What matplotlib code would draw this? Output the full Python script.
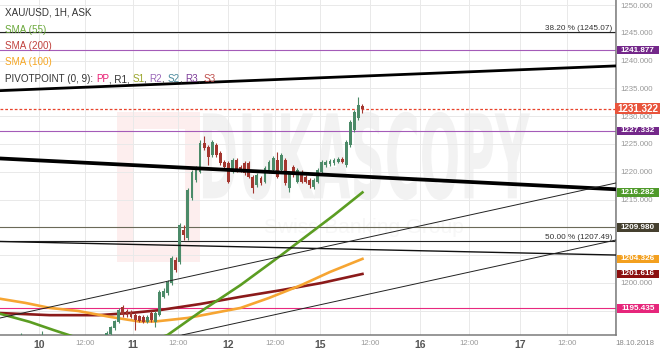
import numpy as np
import matplotlib
matplotlib.use('Agg')
import matplotlib.pyplot as plt
from matplotlib.patches import Rectangle, PathPatch
from matplotlib.textpath import TextPath
from matplotlib.font_manager import FontProperties
from matplotlib.transforms import Affine2D, blended_transform_factory

plt.rcParams['font.family'] = ['Liberation Sans', 'DejaVu Sans']

# XAU/USD 1H candles, bar 0 = first bar at the left edge
opens = [1188.2, 1188.6, 1188.9, 1188.4, 1188.1, 1188.7, 1189.5, 1189.2, 1188.8, 1188.3,
         1188.9, 1189.8, 1189.4, 1188.7, 1188.0, 1187.6, 1188.2, 1187.9, 1188.5, 1188.1,
         1188.9, 1189.3, 1188.8, 1189.1, 1189.6, 1189.2, 1189.7, 1190.8, 1191.9, 1193.0,
         1195.6, 1195.0, 1194.8, 1194.2, 1194.0, 1193.9, 1193.0, 1194.6, 1193.0, 1194.3,
         1197.5, 1198.2, 1200.0, 1204.1, 1203.8, 1209.5, 1208.1, 1215.3, 1218.5, 1220.0,
         1225.2, 1224.5, 1223.0, 1224.8, 1223.4, 1221.8, 1221.6, 1220.0, 1222.1, 1220.9,
         1221.6, 1221.6, 1219.1, 1217.6, 1218.9, 1218.2, 1220.0, 1220.3, 1222.1, 1220.3,
         1222.1, 1217.1, 1220.9, 1218.2, 1220.0, 1219.1, 1218.5, 1217.3, 1218.2, 1220.0,
         1221.2, 1221.4, 1221.6, 1221.8, 1222.3, 1221.2, 1224.8, 1227.5, 1229.7, 1231.8]
highs = [1188.9, 1189.3, 1189.1, 1188.7, 1189.0, 1191.0, 1189.9, 1189.6, 1189.1, 1189.3,
         1191.3, 1190.1, 1189.7, 1189.0, 1188.3, 1188.5, 1188.4, 1188.8, 1188.7, 1189.2,
         1189.6, 1189.5, 1189.4, 1189.9, 1189.8, 1189.9, 1191.3, 1192.3, 1193.4, 1195.4,
         1196.0, 1195.3, 1195.1, 1194.6, 1194.3, 1194.2, 1194.2, 1194.9, 1194.9, 1198.7,
         1199.0, 1200.5, 1204.9, 1204.6, 1210.8, 1210.4, 1217.0, 1220.3, 1221.0, 1225.7,
         1226.4, 1224.8, 1225.7, 1225.1, 1223.7, 1222.1, 1221.9, 1222.4, 1222.4, 1221.2,
         1221.9, 1221.9, 1219.4, 1219.7, 1219.2, 1221.0, 1222.1, 1222.8, 1223.6, 1223.3,
         1222.4, 1220.1, 1221.2, 1220.6, 1220.3, 1219.4, 1218.8, 1218.8, 1220.6, 1222.1,
         1222.2, 1222.3, 1222.4, 1222.6, 1222.6, 1225.7, 1229.3, 1231.1, 1233.5, 1232.2]
lows = [1187.9, 1188.3, 1188.0, 1187.7, 1187.9, 1188.5, 1188.9, 1188.5, 1188.0, 1188.1,
        1188.6, 1189.0, 1188.4, 1187.7, 1187.2, 1187.4, 1187.5, 1187.7, 1187.8, 1187.9,
        1188.6, 1188.5, 1188.6, 1188.9, 1188.9, 1188.8, 1189.5, 1190.4, 1191.6, 1192.7,
        1193.9, 1193.9, 1193.6, 1191.5, 1192.9, 1192.7, 1192.7, 1193.0, 1192.1, 1194.0,
        1197.2, 1197.9, 1199.7, 1202.0, 1203.4, 1207.7, 1207.8, 1215.0, 1218.2, 1219.7,
        1224.0, 1221.2, 1222.7, 1222.7, 1221.3, 1220.6, 1217.9, 1219.7, 1220.0, 1220.0,
        1219.5, 1218.8, 1216.2, 1217.3, 1217.7, 1217.9, 1219.7, 1220.0, 1218.8, 1220.0,
        1217.7, 1216.4, 1219.1, 1217.9, 1217.9, 1217.9, 1217.0, 1216.9, 1217.9, 1219.7,
        1220.9, 1221.1, 1221.3, 1221.5, 1221.5, 1220.9, 1224.5, 1227.2, 1229.4, 1230.6]
closes = [1188.6, 1188.9, 1188.4, 1188.1, 1188.7, 1189.5, 1189.2, 1188.8, 1188.3, 1188.9,
          1189.8, 1189.4, 1188.7, 1188.0, 1187.6, 1188.2, 1187.9, 1188.5, 1188.1, 1188.9,
          1189.3, 1188.8, 1189.1, 1189.6, 1189.2, 1189.7, 1190.9, 1192.0, 1193.1, 1195.1,
          1194.2, 1194.2, 1193.9, 1193.3, 1193.2, 1193.0, 1193.9, 1193.3, 1194.6, 1198.4,
          1198.6, 1200.2, 1204.5, 1202.3, 1210.4, 1208.6, 1216.7, 1220.0, 1220.7, 1225.2,
          1224.3, 1222.7, 1225.4, 1223.0, 1221.6, 1220.9, 1218.2, 1222.1, 1220.3, 1220.3,
          1219.8, 1219.1, 1217.1, 1219.4, 1218.0, 1220.7, 1221.8, 1222.5, 1219.1, 1223.0,
          1218.0, 1219.8, 1219.4, 1220.3, 1218.2, 1218.2, 1217.6, 1218.5, 1220.3, 1221.8,
          1221.8, 1221.9, 1222.1, 1222.3, 1221.8, 1225.4, 1229.0, 1230.8, 1232.0, 1231.322]

# moving averages (bar index, value)
sma55_x = [-1, 7, 13, 18, 24, 32, 37, 41, 49, 59, 69, 82, 89]
sma55 = [1194.6, 1193.0, 1191.5, 1190.3, 1189.5, 1189.2, 1189.6, 1190.63, 1194.77,
         1199.63, 1205.0, 1212.2, 1216.282]
sma100_x = [-1, 6, 12, 19, 27, 34, 38, 46, 59, 66, 74, 81, 89]
sma100 = [1197.24, 1196.4, 1195.5, 1194.95, 1193.87, 1193.06, 1193.06, 1193.7, 1195.5,
          1197.3, 1199.63, 1201.97, 1204.326]
sma200_x = [-1, 12, 24, 32, 39, 49, 59, 69, 79, 89]
sma200 = [1194.6, 1194.2, 1194.2, 1194.6, 1195.1, 1196.2, 1197.5, 1198.7, 1200.0, 1201.616]

# trend lines: value at bar 0 and at bar 150
trend_bars = (0, 150)
trend_thick_top = (1234.6, 1239.0)
trend_thick_mid = (1222.38, 1216.9)
trend_thin_desc = (1207.45, 1205.04)
channel_upper = (1193.73, 1217.75)
channel_lower = (1183.5, 1207.49)

# horizontal levels
fib_levels = [1245.07, 1207.49]
fib_labels = ['38.20 % (1245.07)', '50.00 % (1207.49)']
pivot_r = [1241.877, 1227.332]
pp_level = 1195.435
last_price = 1231.322
olive_level = 1209.980

box_values = [1241.877, 1231.322, 1227.332, 1216.282, 1209.980, 1204.326, 1201.616, 1195.435]
box_colors = ['#74288a', '#e9543c', '#74288a', '#4f9a2a', '#45402f', '#f3a01f', '#8c0f0f', '#e6267b']

# right axis labels (the ones hidden under price boxes are left out)
ytick_values = [1250, 1245, 1240, 1235, 1230, 1225, 1220, 1215, 1200]

tick_pos = [9.33, 20.67, 32.49, 43.57, 55.89, 67.46, 78.55, 90.86, 103.18, 115.25, 127.81, 139.39, 151.21]
tick_labels = ['10', '12:00', '11', '12:00', '12', '12:00', '15', '12:00', '16', '12:00', '17', '12:00', '18.10.2018']

GREEN = '#4b8a68'
RED = '#a3362f'

fig = plt.figure(figsize=(6.6, 3.49), dpi=100)
ax = fig.add_axes([0, 14 / 349, 616 / 660, 335 / 349])
ax.set_xlim(-0.27, 151.45)
ax.set_ylim(1190.63, 1250.9)

# watermark
ax.add_patch(Rectangle((0.19, 0.218), 0.135, 0.448, transform=ax.transAxes,
                       fc='#fdeeee', ec='none', zorder=0))
ax.add_patch(Rectangle((0.218, 0.275), 0.082, 0.34, transform=ax.transAxes,
                       fc='white', ec='none', zorder=0))
fp = FontProperties(family='DejaVu Sans', weight='bold')
tp = TextPath((0, 0), 'DUKASCOPY', size=1, prop=fp)
ext = tp.get_extents()
tr = (Affine2D().translate(-ext.x0, -ext.y0)
      .scale((0.8604 - 0.3295) / ext.width, (0.666 - 0.403) / ext.height)
      .translate(0.3295, 0.403) + ax.transAxes)
ax.add_patch(PathPatch(tp, transform=tr, fc='#f2f2f2', ec='none', zorder=0))
ax.text(0.59, 0.32, 'Swiss Banking Group', transform=ax.transAxes, fontsize=15,
        color='#f7f7f7', ha='center', va='center', zorder=0)

# grid
ax.set_axisbelow(True)
ax.grid(True, color='#e9e9e9', lw=0.7)

# horizontal levels
for v in fib_levels:
    ax.axhline(v, color='#222222', lw=0.8, zorder=2)
for v in pivot_r:
    ax.axhline(v, color='#a45bb8', lw=0.8, zorder=2)
ax.axhline(pp_level, color='#e8287f', lw=0.8, zorder=2)
ax.axhline(olive_level, color='#6b6a58', lw=0.8, zorder=2)
ax.axhline(last_price, color='#e8442c', lw=0.9, ls=(0, (2.2, 1.6)), zorder=2)

btr = blended_transform_factory(ax.transAxes, ax.transData)
for v, lab in zip(fib_levels, fib_labels):
    ax.text(0.9935, v + 0.1, lab, transform=btr, ha='right', va='bottom',
            fontsize=5.9, color='#333333', zorder=6)

# moving averages
ax.plot(sma200_x, sma200, color='#8b1a1a', lw=1.9, zorder=3)
ax.plot(sma100_x, sma100, color='#f6a532', lw=1.9, zorder=3)
ax.plot(sma55_x, sma55, color='#5b9d22', lw=1.9, zorder=3)

# candles
x = np.arange(len(opens))
o = np.array(opens)
c = np.array(closes)
cols = [GREEN if cc >= oo else RED for oo, cc in zip(o, c)]
ax.vlines(x, lows, highs, colors=cols, lw=0.8, zorder=4)
ax.bar(x, c - o, bottom=o, width=0.7, color=cols, zorder=4)

# trend lines
ax.axline((trend_bars[0], trend_thick_top[0]), (trend_bars[1], trend_thick_top[1]),
          color='black', lw=2.0, zorder=5)
ax.axline((trend_bars[0], trend_thick_mid[0]), (trend_bars[1], trend_thick_mid[1]),
          color='black', lw=2.7, zorder=5)
ax.axline((trend_bars[0], trend_thin_desc[0]), (trend_bars[1], trend_thin_desc[1]),
          color='#111111', lw=1.0, zorder=5)
ax.axline((trend_bars[0], channel_upper[0]), (trend_bars[1], channel_upper[1]),
          color='#222222', lw=0.7, zorder=5)
ax.axline((trend_bars[0], channel_lower[0]), (trend_bars[1], channel_lower[1]),
          color='#222222', lw=0.7, zorder=5)

# axes styling
for s in ['top', 'left']:
    ax.spines[s].set_visible(False)
for s in ['right', 'bottom']:
    ax.spines[s].set_color('#7a7a7a')
    ax.spines[s].set_linewidth(1.1)

ax.yaxis.tick_right()
ax.set_yticks(np.arange(1195, 1251, 5), minor=True)
ax.set_yticks(ytick_values)
ax.set_yticklabels(['%.3f' % v for v in ytick_values])
ax.tick_params(axis='y', which='both', length=0, pad=3.4, labelsize=5.7, labelcolor='#999999')
ax.grid(True, axis='y', which='minor', color='#e9e9e9', lw=0.7)

ax.set_xticks(tick_pos)
ax.set_xticklabels(tick_labels)
ax.tick_params(axis='x', length=0, pad=3.5)
for lab in ax.get_xticklabels():
    t = lab.get_text()
    if t == '12:00':
        lab.set_fontsize(5.6)
        lab.set_color('#999999')
    elif '.' in t:
        lab.set_fontsize(5.6)
        lab.set_color('#888888')
        lab.set_ha('left')
    else:
        lab.set_fontsize(7.5)
        lab.set_fontweight('bold')
        lab.set_color('#555555')
ax.set_xticks([tick_pos[-1]], minor=True)
ax.tick_params(axis='x', which='minor', length=6, width=1, color='#555555')

# price boxes on the right axis
for v, col in zip(box_values, box_colors):
    big = v == last_price
    h = 1.98 if big else 1.56
    x0 = 0.9984 if big else 1.001
    w = 0.073 if big else 0.069
    ax.add_patch(Rectangle((x0, v - h / 2), w, h, transform=btr, fc=col, ec='none',
                           clip_on=False, zorder=7))
    ax.text(x0 + w / 2, v, '%.3f' % v, transform=btr, ha='center', va='center',
            fontsize=7.0 if big else 5.9, fontweight='bold', color='white',
            clip_on=False, zorder=8)

# legend texts
fs = 7.1
ax.text(0.008, 0.962, 'XAU/USD, 1H, ASK', transform=ax.transAxes, fontsize=fs,
        color='#333333', va='center', zorder=9)
ax.text(0.008, 0.909, 'SMA (55)', transform=ax.transAxes, fontsize=fs,
        color='#6aa83a', va='center', zorder=9)
ax.text(0.008, 0.863, 'SMA (200)', transform=ax.transAxes, fontsize=fs,
        color='#c0403c', va='center', zorder=9)
ax.text(0.008, 0.815, 'SMA (100)', transform=ax.transAxes, fontsize=fs,
        color='#f5a623', va='center', zorder=9)
pieces = [('PIVOTPOINT (0, 9): ', '#333333'), ('PP', '#e91e73'), (', R1, ', '#333333'),
          ('S1', '#9aa52a'), (', ', '#333333'), ('R2', '#9a68b8'), (', ', '#333333'),
          ('S2', '#4a8a9c'), (', ', '#333333'), ('R3', '#7d3c98'), (', ', '#333333'),
          ('S3', '#c0504d')]
t = ax.text(0.008, 0.764, pieces[0][0], transform=ax.transAxes, fontsize=fs,
            color=pieces[0][1], va='center', zorder=9)
for s, col in pieces[1:]:
    t = ax.annotate(s, xy=(1, 0), xycoords=t, va='bottom', ha='left',
                    fontsize=fs, color=col, zorder=9)

fig.savefig('out.png', dpi=100, facecolor='white')
